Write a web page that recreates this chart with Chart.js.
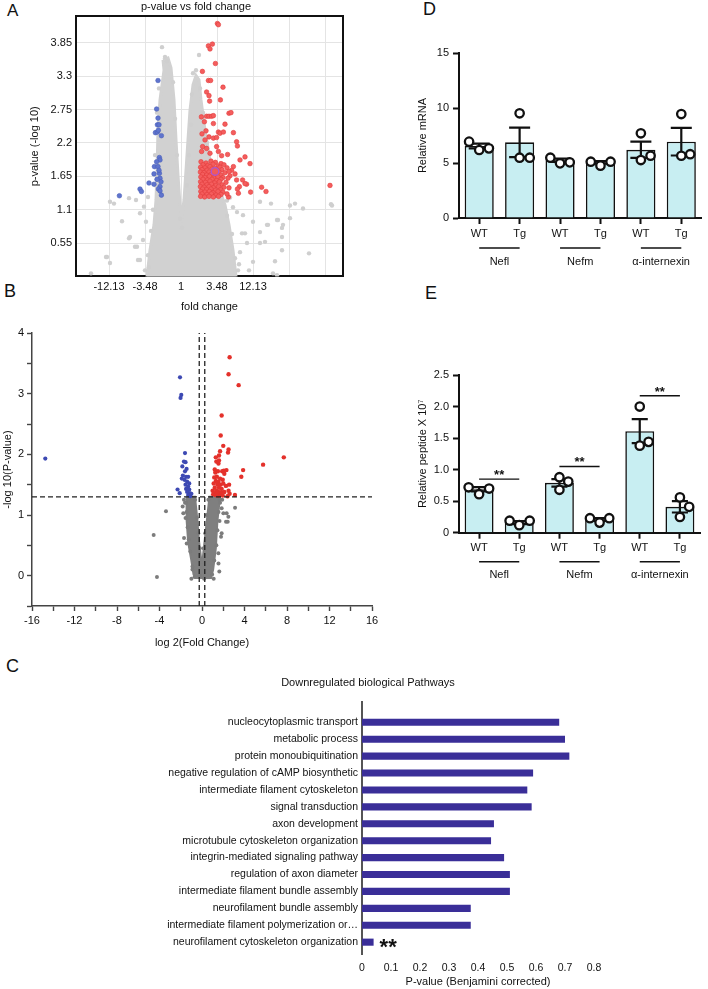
<!DOCTYPE html>
<html><head><meta charset="utf-8">
<script src="https://cdn.jsdelivr.net/npm/chart.js@4/dist/chart.umd.min.js"></script>
<style>
html,body{margin:0;padding:0;background:#fff;}
body{width:708px;height:989px;position:relative;overflow:hidden;font-family:'Liberation Sans',Arial,sans-serif;}
canvas{position:absolute;}
.lbl{position:absolute;color:#111;line-height:1;}
</style></head><body>
<div class="lbl" style="left:7px;top:2px;font-size:17px">A</div>
<div class="lbl" style="left:423px;top:0px;font-size:18px">D</div>
<div class="lbl" style="left:4px;top:282px;font-size:18px">B</div>
<div class="lbl" style="left:425px;top:284px;font-size:18px">E</div>
<div class="lbl" style="left:6px;top:657px;font-size:18px">C</div>
<canvas id="cA" width="392" height="318" style="left:0;top:0;width:392px;height:318px"></canvas>
<canvas id="cB" width="392" height="340" style="left:0;top:320px;width:392px;height:340px"></canvas>
<canvas id="cD" width="308" height="275" style="left:400px;top:0;width:308px;height:275px"></canvas>
<canvas id="cE" width="308" height="305" style="left:400px;top:280px;width:308px;height:305px"></canvas>
<canvas id="cC" width="708" height="329" style="left:0;top:660px;width:708px;height:329px"></canvas>
<script>
// ---------------- Panel A : p-value vs fold change (x in log2 units) ----------------
const A_X_MIN = -5.25, A_X_MAX = 8.1, A_Y_MIN = 0, A_Y_MAX = 4.29;
const A_X_TICKS = [-3.6, -1.8, 0, 1.8, 3.6, 5.4, 7.2];
const A_X_TICK_LABELS = ['-12.13', '-3.48', '1', '3.48', '12.13', '', ''];
const A_Y_TICKS = [0.55, 1.1, 1.65, 2.2, 2.75, 3.3, 3.85];
// outline of the dense non-significant cloud
const A_CLOUD = [[-0.9,3.57],[-0.65,3.6],[-0.5,3.44],[-0.35,2.91],[-0.25,2.25],[-0.15,1.67],[-0.05,1.18],[0.05,1.01],
 [0.15,1.26],[0.25,1.75],[0.35,2.25],[0.45,2.74],[0.6,3.16],[0.75,3.31],[0.9,3.24],[1.0,2.91],[1.2,2.41],[1.45,1.92],
 [1.85,1.51],[2.2,1.18],[2.4,0.85],[2.6,0.43],[2.75,0],[-1.7,0],[-1.55,0.43],[-1.35,0.85],[-1.25,1.26],[-1.2,1.75],
 [-1.15,2.41],[-1.05,2.91],[-0.85,3.4]];
const A_GRAY = [[-0.95,3.78],[0.9,3.65],[-0.8,3.62],[-0.7,3.55],[0.75,3.4],[0.6,3.35],
 [-3.55,1.23],[-3.75,0.32],[-3.35,1.2],[-2.6,1.29],[-2.25,1.26],[-2.95,0.91],[-2.6,0.63],[-2.05,1.04],[-1.65,1.31],
 [-2.3,0.49],[-2.15,0.27],[-3.7,0.32],[-3.55,0.22],[-2.55,0.65],[-2.2,0.49],[-2.05,0.27],[-1.8,0.1],[-1.9,0.6],
 [-1.75,0.9],[-1.85,1.15],[-4.5,0.05],
 [3.95,1.23],[4.5,1.2],[5.45,1.17],[5.7,1.2],[6.1,1.12],[7.55,1.17],[3.6,0.9],[3.95,0.73],[4.35,0.85],[4.85,0.93],
 [5.05,0.8],[5.45,0.96],[3.05,0.71],[3.3,0.55],[3.95,0.55],[5.05,0.43],[2.8,1.06],[2.6,1.14],[3.1,1.01],[4.3,0.85],
 [4.8,0.93],[5.1,0.85],[5.05,0.65],[4.2,0.57],[3.6,0.24],[4.7,0.25],[6.4,0.38],[4.6,0.05],[4.8,0.02],[2.95,0.4],
 [3.2,0.71],[2.9,0.2],[3.4,0.1],[7.5,1.19],[2.45,1.3],[2.3,1.25],
 [-1.3,2.0],[-1.25,1.5],[-1.4,1.1],[-1.5,0.75],[-1.65,0.35],[-1.2,2.7],[-1.1,3.1],[-0.4,3.2],[-0.3,2.6],[-0.2,2.0],
 [0.3,1.5],[0.4,2.0],[0.5,2.5],[0.55,3.0],[0.95,3.1],[1.1,2.7],[1.3,2.2],[1.6,1.8],[2.0,1.4],[2.3,1.0],[2.55,0.7],
 [2.7,0.3],[2.85,0.1],[-1.6,0.15],[0.05,0.8],[-0.05,0.95]];
const A_UP = [[1.82,4.17],[1.87,4.15],[1.37,3.8],[1.57,3.83],[1.45,3.75],[1.72,3.51],[1.07,3.38],[1.37,3.23],[1.48,3.23],
 [2.1,3.12],[1.28,3.04],[1.4,2.98],[1.43,2.89],[1.97,2.91],[1.28,2.64],[1.4,2.64],[1.53,2.64],[1.62,2.65],[2.4,2.69],
 [2.5,2.7],[1.02,2.63],[1.17,2.55],[1.62,2.52],[2.2,2.51],[1.87,2.38],[1.95,2.36],[2.12,2.38],[2.62,2.37],[1.05,2.35],
 [1.25,2.4],[1.4,2.3],[1.62,2.28],[1.2,2.25],[1.78,2.29],[2.78,2.22],[2.82,2.15],[1.08,2.14],[1.28,2.11],[1.78,2.14],
 [1.03,2.06],[1.45,2.03],[1.87,2.06],[2.03,1.99],[2.33,2.01],[3.2,1.97],[2.95,1.92],[3.45,1.86],[2.62,1.81],[2.53,1.75],
 [2.7,1.69],[7.45,1.5],[4.03,1.47],[4.25,1.4],[3.48,1.39],[3.28,1.52],[3.2,1.53],[2.92,1.48],[2.82,1.44],[2.87,1.37],
 [2.78,1.59],[2.45,1.66],[2.37,1.31],[3.08,1.59],
 [1.0,1.89],[1.25,1.87],[1.5,1.9],[1.72,1.88],[2.0,1.86],[1.1,1.84],[1.35,1.83],[1.6,1.85],[1.85,1.82],[2.15,1.84],
 [0.98,1.8],[1.2,1.79],[1.45,1.81],[1.7,1.78],[1.95,1.8],[2.3,1.79],[1.05,1.76],[1.3,1.75],[1.55,1.77],[1.8,1.74],
 [2.05,1.76],[0.97,1.72],[1.15,1.71],[1.4,1.72],[1.62,1.7],[1.9,1.72],[2.2,1.71],[2.4,1.73],[1.08,1.68],[1.28,1.67],
 [1.5,1.68],[1.75,1.66],[2.0,1.67],[0.99,1.64],[1.2,1.63],[1.42,1.65],[1.65,1.62],[1.85,1.64],[2.1,1.63],[2.35,1.62],
 [1.1,1.6],[1.32,1.59],[1.55,1.6],[1.78,1.58],[2.0,1.6],[0.98,1.56],[1.22,1.55],[1.45,1.57],[1.68,1.54],[1.92,1.56],
 [2.25,1.55],[1.05,1.52],[1.3,1.51],[1.52,1.52],[1.75,1.5],[2.05,1.51],[0.97,1.48],[1.15,1.47],[1.4,1.48],[1.62,1.46],
 [1.88,1.48],[2.15,1.47],[2.4,1.46],[1.08,1.44],[1.28,1.43],[1.5,1.44],[1.72,1.42],[1.98,1.43],[0.99,1.4],[1.2,1.39],
 [1.42,1.4],[1.6,1.38],[1.85,1.4],[2.1,1.39],[1.05,1.36],[1.3,1.35],[1.52,1.36],[1.75,1.34],[2.0,1.35],[2.3,1.36],
 [0.98,1.32],[1.18,1.31],[1.4,1.32],[1.62,1.31],[1.88,1.32]];
const A_DOWN = [[-1.15,3.23],[-1.22,2.76],[-1.15,2.61],[-1.18,2.5],[-1.1,2.5],[-1.28,2.37],[-1.18,2.38],[-0.98,2.32],
 [-1.13,2.41],[-1.08,1.96],[-1.05,1.92],[-1.22,1.89],[-1.33,1.81],[-1.15,1.81],[-1.08,1.7],[-1.35,1.69],[-1.05,1.62],
 [-1.0,1.56],[-1.05,1.48],[-1.6,1.54],[-1.35,1.52],[-2.05,1.44],[-1.98,1.4],[-1.13,1.44],[-1.05,1.41],[-0.98,1.34],
 [-3.08,1.33],[-1.1,1.75],[-1.2,1.6]];
const A_HIGHLIGHT = [[1.7,1.73]];

// ---------------- Panel B : volcano plot ----------------
const B_X_MIN = -16, B_X_MAX = 16, B_Y_MIN = -0.5, B_Y_MAX = 4;
const P_THRESH = 1.3, FC_THRESH = 0.26;
const B_CLOUD = [[-1.45,1.3],[-1.45,0.92],[-1.3,0.55],[-1.0,0.25],[-0.8,0.02],[-0.6,-0.04],[0.85,-0.04],[1.05,0.1],
 [1.3,0.45],[1.45,0.9],[1.7,1.3],[0.7,1.3],[0.45,0.9],[0.2,0.5],[0.05,0.25],[0,0.2],[-0.1,0.3],[-0.3,0.6],
 [-0.45,0.95],[-0.66,1.3]];
const B_GRAY = [[-3.39,1.06],[-4.55,0.67],[-1.82,1.14],[-1.76,1.03],[3.11,1.12],[2.32,1.03],[2.48,0.97],[2.42,0.89],
 [1.79,0.64],[1.54,0.37],[1.85,1.11],[2.01,1.03],[2.26,0.89],[1.85,0.7],[1.63,0.07],[-1.69,0.62],[-1.44,0.53],
 [-4.24,-0.02],[-1.6,1.2],[-1.7,1.25],[1.7,1.2],[1.9,1.25],[-1.55,0.95],[1.65,0.9],[1.55,0.2],[-1.0,-0.05],[1.1,-0.05],
 [-0.9,0.1],[-1.5,1.2],[-1.45,1.05],[-1.35,0.8],[-1.25,0.6],[-1.1,0.4],[-0.9,0.15],[-0.65,1.25],[-0.5,0.95],
 [-0.35,0.7],[-0.2,0.45],[0.6,1.25],[0.45,1.0],[0.3,0.7],[0.15,0.45],[1.65,1.25],[1.55,1.05],[1.45,0.75],[1.35,0.5],
 [1.15,0.25],[0.95,0.02],[-0.7,-0.02],[0.2,-0.05],[-0.2,0.0]];
const B_UP = [[2.6,3.6],[2.5,3.32],[3.45,3.14],[1.85,2.64],[1.76,2.31],[2.0,2.14],[1.7,2.05],[1.6,1.98],[2.5,2.08],
 [2.45,2.03],[7.7,1.95],[5.75,1.83],[3.87,1.74],[3.7,1.63],[3.1,1.33],[2.4,1.31],[2.55,1.5],[2.5,1.4],[1.3,1.95],
 [1.35,1.88],[1.55,1.85],[1.6,1.9],[1.2,1.75],[1.25,1.7],[1.5,1.72],[1.9,1.72],[2.05,1.73],[2.3,1.74],[2.1,1.68],
 [1.15,1.62],[1.4,1.63],[1.7,1.6],[1.95,1.58],[1.3,1.56],[1.55,1.55],[1.1,1.52],[1.45,1.5],[1.75,1.5],[2.0,1.52],
 [2.25,1.48],[1.2,1.45],[1.6,1.45],[1.85,1.43],[1.0,1.4],[1.35,1.4],[1.55,1.38],[1.8,1.37],[2.1,1.38],[1.05,1.34],
 [1.3,1.33],[1.5,1.32],[1.7,1.33],[1.95,1.32],[2.6,1.35],[1.15,1.36],[1.4,1.35]];
const B_DOWN = [[-2.07,3.27],[-1.95,2.98],[-2.02,2.93],[-14.75,1.93],[-1.6,2.02],[-1.7,1.88],[-1.55,1.87],[-1.85,1.8],
 [-1.45,1.76],[-1.6,1.72],[-1.8,1.65],[-1.5,1.63],[-1.3,1.63],[-1.65,1.58],[-1.4,1.55],[-1.2,1.52],[-1.55,1.5],
 [-1.3,1.47],[-1.5,1.43],[-1.2,1.42],[-1.4,1.38],[-1.15,1.36],[-1.3,1.33],[-1.1,1.31],[-2.3,1.42],[-2.1,1.36],
 [-1.0,1.35],[-1.25,1.32],[-1.9,1.6]];

// ---------------- Panel C : Downregulated biological pathways ----------------
const C_CATEGORIES = ['nucleocytoplasmic transport','metabolic process','protein monoubiquitination',
 'negative regulation of cAMP biosynthetic','intermediate filament cytoskeleton','signal transduction',
 'axon development','microtubule cytoskeleton organization','integrin-mediated signaling pathway',
 'regulation of axon diameter','intermediate filament bundle assembly','neurofilament bundle assembly',
 'intermediate filament polymerization or…','neurofilament cytoskeleton organization'];
const C_VALUES = [0.68, 0.70, 0.715, 0.59, 0.57, 0.585, 0.455, 0.445, 0.49, 0.51, 0.51, 0.375, 0.375, 0.04];
const C_SIG = ['', '', '', '', '', '', '', '', '', '', '', '', '', '**'];

// ---------------- Panel D : Relative mRNA ----------------
const D_LABELS = ['WT', 'Tg', 'WT', 'Tg', 'WT', 'Tg'];
const D_GROUPS = ['Nefl', 'Nefm', 'α-internexin'];
const D_MEAN = [6.55, 6.88, 5.25, 5.05, 6.2, 6.94];
const D_SEM = [0.22, 1.34, 0.15, 0.12, 0.74, 1.26];
const D_REPS = [[6.94, 6.18, 6.33], [9.52, 5.48, 5.48], [5.48, 4.97, 5.06], [5.12, 4.76, 5.12], [7.7, 5.27, 5.66], [9.45, 5.66, 5.8]];

// ---------------- Panel E : Relative peptide ----------------
const E_LABELS = ['WT', 'Tg', 'WT', 'Tg', 'WT', 'Tg'];
const E_GROUPS = ['Nefl', 'Nefm', 'α-internexin'];
const E_MEAN = [0.69, 0.16, 0.79, 0.21, 1.61, 0.41];
const E_SEM = [0.034, 0.023, 0.058, 0.023, 0.19, 0.09];
const E_REPS = [[0.72, 0.61, 0.70], [0.19, 0.12, 0.19], [0.88, 0.68, 0.81], [0.23, 0.16, 0.23], [2.0, 1.38, 1.44], [0.56, 0.25, 0.41]];
const E_SIG_Y = [0.85, 1.05, 2.17];
const E_SIG_TEXT = ['**', '**', '**'];

// ---------------- layout constants (replicate dot offsets, in bar units) ----------------
const D_JIT = [[-0.25,0,0.24],[0,0,0.25],[-0.24,0,0.24],[-0.24,0,0.25],[0,0,0.24],[0,0,0.22]];
const E_JIT = [[-0.26,0,0.25],[-0.24,0,0.26],[0,0,0.22],[-0.24,0,0.24],[0,0,0.22],[0,0,0.23]];

// ================= drawing =================
const FONT = "'Liberation Sans', Arial, Helvetica, sans-serif";
Chart.defaults.font.family = FONT;
Chart.defaults.font.size = 11;
Chart.defaults.color = '#111';
Chart.defaults.animation = false;
Chart.defaults.plugins.legend.display = false;
Chart.defaults.plugins.tooltip.enabled = false;

const mk = id => document.getElementById(id);
const xy = a => a.map(p => ({x: p[0], y: p[1]}));
const closed = a => xy(a.concat([a[0]]));

// -------- A --------
const frameAxis = (pos, min, max, fitKey, fitVal) => ({
  type: 'linear', position: pos, min, max, display: true,
  ticks: {display: false}, grid: {display: false, drawTicks: false},
  border: {display: true, color: '#111', width: 2},
  afterFit: s => { s[fitKey] = fitVal; }
});
new Chart(mk('cA'), {
  type: 'scatter',
  data: {datasets: [
    {data: xy(A_HIGHLIGHT), pointRadius: 3.8, pointBackgroundColor: '#f05a5a', pointBorderColor: '#a855d6', pointBorderWidth: 1.3, order: 0},
    {data: xy(A_UP), pointRadius: 2.3, pointBackgroundColor: '#f45d5d', pointBorderColor: '#e23c3c', pointBorderWidth: 0.6, order: 1},
    {data: xy(A_DOWN), pointRadius: 2.3, pointBackgroundColor: '#5f74cd', pointBorderColor: '#4a5fbb', pointBorderWidth: 0.6, order: 2},
    {data: xy(A_GRAY), pointRadius: 2.2, pointBackgroundColor: '#cfcfcf', pointBorderWidth: 0, order: 3},
    {type: 'line', data: closed(A_CLOUD), fill: 'shape', tension: 0, backgroundColor: '#d1d1d1', borderColor: '#d1d1d1', borderWidth: 3, pointRadius: 0, order: 4}
  ]},
  options: {
    responsive: false, animation: false,
    layout: {padding: {left: 24, right: 24, top: 0, bottom: 0}},
    plugins: {title: {display: true, text: 'p-value vs fold change', font: {size: 11, weight: 'normal'}, color: '#111', padding: {top: 0, bottom: 3}}},
    scales: {
      x: {type: 'linear', min: A_X_MIN, max: A_X_MAX,
        afterBuildTicks: s => { s.ticks = A_X_TICKS.map(v => ({value: v})); },
        ticks: {callback: v => A_X_TICK_LABELS[A_X_TICKS.indexOf(v)], autoSkip: false, maxRotation: 0, padding: 4, color: '#111'},
        grid: {color: '#e4e4e4', drawTicks: false},
        border: {display: true, color: '#111', width: 2},
        title: {display: true, text: 'fold change', font: {size: 11}, color: '#111'},
        afterFit: s => { s.height = 41.6; }},
      y: {type: 'linear', min: A_Y_MIN, max: A_Y_MAX,
        afterBuildTicks: s => { s.ticks = A_Y_TICKS.map(v => ({value: v})); },
        ticks: {callback: v => String(v), padding: 4, color: '#111'},
        grid: {color: '#e4e4e4', drawTicks: false},
        border: {display: true, color: '#111', width: 2},
        title: {display: true, text: 'p-value (-log 10)', font: {size: 11}, color: '#111'},
        afterFit: s => { s.width = 52; }},
      x2: frameAxis('top', A_X_MIN, A_X_MAX, 'height', 0),
      y2: frameAxis('right', A_Y_MIN, A_Y_MAX, 'width', 25)
    }
  }
});

// -------- B --------
const dash = (a, b) => ({type: 'line', data: [a, b], borderColor: '#222', borderWidth: 1.3, borderDash: [5, 3], pointRadius: 0, fill: false, order: -1});
new Chart(mk('cB'), {
  type: 'scatter',
  data: {datasets: [
    dash({x: B_X_MIN, y: P_THRESH}, {x: B_X_MAX, y: P_THRESH}),
    dash({x: -FC_THRESH, y: B_Y_MIN}, {x: -FC_THRESH, y: B_Y_MAX}),
    dash({x: FC_THRESH, y: B_Y_MIN}, {x: FC_THRESH, y: B_Y_MAX}),
    {data: xy(B_UP), pointRadius: 2.2, pointBackgroundColor: '#e4312b', pointBorderWidth: 0, order: 1},
    {data: xy(B_DOWN), pointRadius: 2.1, pointBackgroundColor: '#3d49b3', pointBorderWidth: 0, order: 2},
    {data: xy(B_GRAY), pointRadius: 2, pointBackgroundColor: '#7c7c7c', pointBorderWidth: 0, order: 3},
    {type: 'line', data: closed(B_CLOUD), fill: 'shape', tension: 0, backgroundColor: '#7f7f7f', borderColor: '#7f7f7f', borderWidth: 2, pointRadius: 0, order: 4}
  ]},
  options: {
    responsive: false, animation: false,
    layout: {padding: {left: 1, right: 20, top: 13, bottom: 6}},
    scales: {
      x: {type: 'linear', min: B_X_MIN, max: B_X_MAX,
        ticks: {stepSize: 2, callback: v => (v % 4 === 0 ? String(v) : ''), autoSkip: false, maxRotation: 0, padding: 3, color: '#111'},
        grid: {display: true, drawOnChartArea: false, tickLength: 5, tickWidth: 1.4, tickColor: '#444'},
        border: {display: true, color: '#444', width: 1.5},
        title: {display: true, text: 'log 2(Fold Change)', font: {size: 11}, color: '#111'},
        afterFit: s => { s.height = 48; }},
      y: {type: 'linear', min: B_Y_MIN, max: B_Y_MAX,
        ticks: {stepSize: 0.5, callback: v => (Number.isInteger(v) ? String(v) : ''), autoSkip: false, padding: 3, color: '#111'},
        grid: {display: true, drawOnChartArea: false, tickLength: 5, tickWidth: 1.4, tickColor: '#444'},
        border: {display: true, color: '#444', width: 1.5},
        title: {display: true, text: '-log 10(P-value)', font: {size: 11}, color: '#111', padding: {top: 0, bottom: 0}},
        afterFit: s => { s.width = 31; }}
    }
  }
});

// -------- helpers for D/E --------
const repPoints = (reps, jit) => reps.flatMap((r, g) => r.map((v, j) => ({x: g + jit[g][j], y: v})));
const errSets = (mean, sem, cap) => mean.map((m, g) => ({
  type: 'line', tension: 0, fill: false, pointRadius: 0, borderColor: '#111', borderWidth: 2.2, borderJoinStyle: 'bevel', order: 1,
  data: [{x: g - cap, y: m + sem[g]}, {x: g + cap, y: m + sem[g]}, {x: g, y: m + sem[g]}, {x: g, y: m - sem[g]},
         {x: g - cap, y: m - sem[g]}, {x: g + cap, y: m - sem[g]}]
}));
const groupPlugin = (groups, lineOff, labelOff) => ({
  id: 'groups',
  afterDraw(chart) {
    const {ctx, chartArea} = chart; const x = chart.scales.x;
    ctx.save();
    ctx.strokeStyle = '#111'; ctx.lineWidth = 1.4; ctx.fillStyle = '#111';
    ctx.font = '11px ' + FONT; ctx.textAlign = 'center'; ctx.textBaseline = 'middle';
    groups.forEach((g, k) => {
      const x0 = x.getPixelForValue(2 * k), x1 = x.getPixelForValue(2 * k + 1);
      const yl = chartArea.bottom + lineOff;
      ctx.beginPath(); ctx.moveTo(x0, yl); ctx.lineTo(x1, yl); ctx.stroke();
      ctx.fillText(g, (x0 + x1) / 2, chartArea.bottom + labelOff);
    });
    ctx.restore();
  }
});
const barPanel = (id, cfg) => new Chart(mk(id), {
  type: 'scatter',
  data: {datasets: [
    {data: repPoints(cfg.reps, cfg.jit), pointRadius: 4.2, pointBorderWidth: 2.3, pointBorderColor: '#111', pointBackgroundColor: '#fff', order: 0},
    ...errSets(cfg.mean, cfg.sem, cfg.cap),
    ...(cfg.extra || []),
    {type: 'bar', data: cfg.mean.map((m, i) => ({x: i, y: m})), backgroundColor: '#c8eef2', borderColor: '#111', borderWidth: 1.6,
     barPercentage: 0.72, categoryPercentage: 1, order: 3}
  ]},
  options: {
    responsive: false, animation: false,
    layout: {padding: cfg.padding},
    scales: {
      x: {type: 'linear', min: -0.5, max: cfg.labels.length - 0.5, offset: false,
        afterBuildTicks: s => { s.ticks = cfg.labels.map((_, i) => ({value: i})); },
        ticks: {callback: v => cfg.labels[v], autoSkip: false, maxRotation: 0, padding: 3, color: '#111', font: {size: 11}},
        grid: {display: true, drawOnChartArea: false, offset: false, tickLength: 6, tickWidth: 2, tickColor: '#111'},
        border: {display: true, color: '#111', width: 2},
        afterFit: s => { s.height = cfg.xh; }},
      y: {type: 'linear', min: 0, max: cfg.ymax,
        ticks: {stepSize: cfg.step, callback: cfg.fmt, padding: 4, color: '#111', font: {size: 11}},
        grid: {display: true, drawOnChartArea: false, tickLength: 6, tickWidth: 2, tickColor: '#111'},
        border: {display: true, color: '#111', width: 2},
        title: {display: true, text: cfg.ytitle, font: {size: 11}, color: '#111', padding: {top: 4, bottom: 4}},
        afterFit: s => { s.width = 47; }}
    }
  },
  plugins: [groupPlugin(cfg.groups, cfg.lineOff, cfg.labelOff)].concat(cfg.plugins || [])
});

// -------- D --------
barPanel('cD', {
  labels: D_LABELS, groups: D_GROUPS, mean: D_MEAN, sem: D_SEM, reps: D_REPS, jit: D_JIT, cap: 0.26,
  ymax: 15, step: 5, fmt: v => String(v), ytitle: 'Relative mRNA',
  padding: {left: 12, right: 0, top: 53, bottom: 0}, xh: 57, lineOff: 30, labelOff: 44
});

// -------- E --------
const sigPlugin = {
  id: 'sigE',
  afterDatasetsDraw(chart) {
    const {ctx} = chart; const x = chart.scales.x, y = chart.scales.y;
    ctx.save(); ctx.fillStyle = '#111'; ctx.font = 'bold 13px ' + FONT;
    ctx.textAlign = 'center'; ctx.textBaseline = 'alphabetic';
    E_SIG_Y.forEach((h, k) => ctx.fillText(E_SIG_TEXT[k], x.getPixelForValue(2 * k + 0.5), y.getPixelForValue(h)));
    ctx.restore();
  }
};
barPanel('cE', {
  labels: E_LABELS, groups: E_GROUPS, mean: E_MEAN, sem: E_SEM, reps: E_REPS, jit: E_JIT, cap: 0.2,
  ymax: 2.5, step: 0.5, fmt: v => (v === 0 ? '0' : v.toFixed(1)), ytitle: 'Relative peptide X 10⁷',
  padding: {left: 12, right: 8, top: 95, bottom: 0}, xh: 52.3, lineOff: 29, labelOff: 42,
  extra: E_SIG_Y.map((h, k) => ({type: 'line', data: [{x: 2 * k, y: h}, {x: 2 * k + 1, y: h}], borderColor: '#111', borderWidth: 1.4, pointRadius: 0, fill: false, order: 0})),
  plugins: [sigPlugin]
});

// -------- C --------
const sigC = {
  id: 'sigC',
  afterDatasetsDraw(chart) {
    const {ctx} = chart; const x = chart.scales.x, y = chart.scales.y;
    ctx.save(); ctx.fillStyle = '#111'; ctx.font = 'bold 22px ' + FONT;
    ctx.textAlign = 'left'; ctx.textBaseline = 'alphabetic';
    C_SIG.forEach((t, i) => { if (t) ctx.fillText(t, x.getPixelForValue(C_VALUES[i]) + 6, y.getPixelForValue(i) + 12); });
    ctx.restore();
  }
};
new Chart(mk('cC'), {
  type: 'bar',
  data: {datasets: [{data: C_VALUES.map((v, i) => ({x: v, y: i})), backgroundColor: '#3a2e98', borderWidth: 0,
    barPercentage: 0.42, categoryPercentage: 1}]},
  options: {
    indexAxis: 'y', responsive: false, animation: false,
    layout: {padding: {left: 142, right: 114, top: 0, bottom: 0}},
    plugins: {title: {display: true, text: 'Downregulated biological Pathways', font: {size: 11, weight: 'normal'}, color: '#111', padding: {top: 16.4, bottom: 12.4}}},
    scales: {
      y: {type: 'linear', reverse: true, min: -1.2, max: C_CATEGORIES.length - 0.3, offset: false,
        afterBuildTicks: s => { s.ticks = C_CATEGORIES.map((_, i) => ({value: i})); },
        ticks: {callback: v => C_CATEGORIES[v], autoSkip: false, font: {size: 10.5}, padding: 4, color: '#111'},
        grid: {display: false, drawTicks: false, offset: false},
        border: {display: true, color: '#555', width: 2},
        afterFit: s => { s.width = 220; }},
      x: {type: 'linear', min: 0, max: 0.8,
        ticks: {stepSize: 0.1, callback: v => (v === 0 ? '0' : v.toFixed(1)), font: {size: 10.5}, padding: 8, color: '#111'},
        grid: {display: false, drawTicks: false},
        border: {display: false},
        title: {display: true, text: 'P-value (Benjamini corrected)', font: {size: 11}, color: '#111', padding: {top: 4, bottom: 0}},
        afterFit: s => { s.height = 35; }}
    }
  },
  plugins: [sigC]
});
</script>
</body></html>
